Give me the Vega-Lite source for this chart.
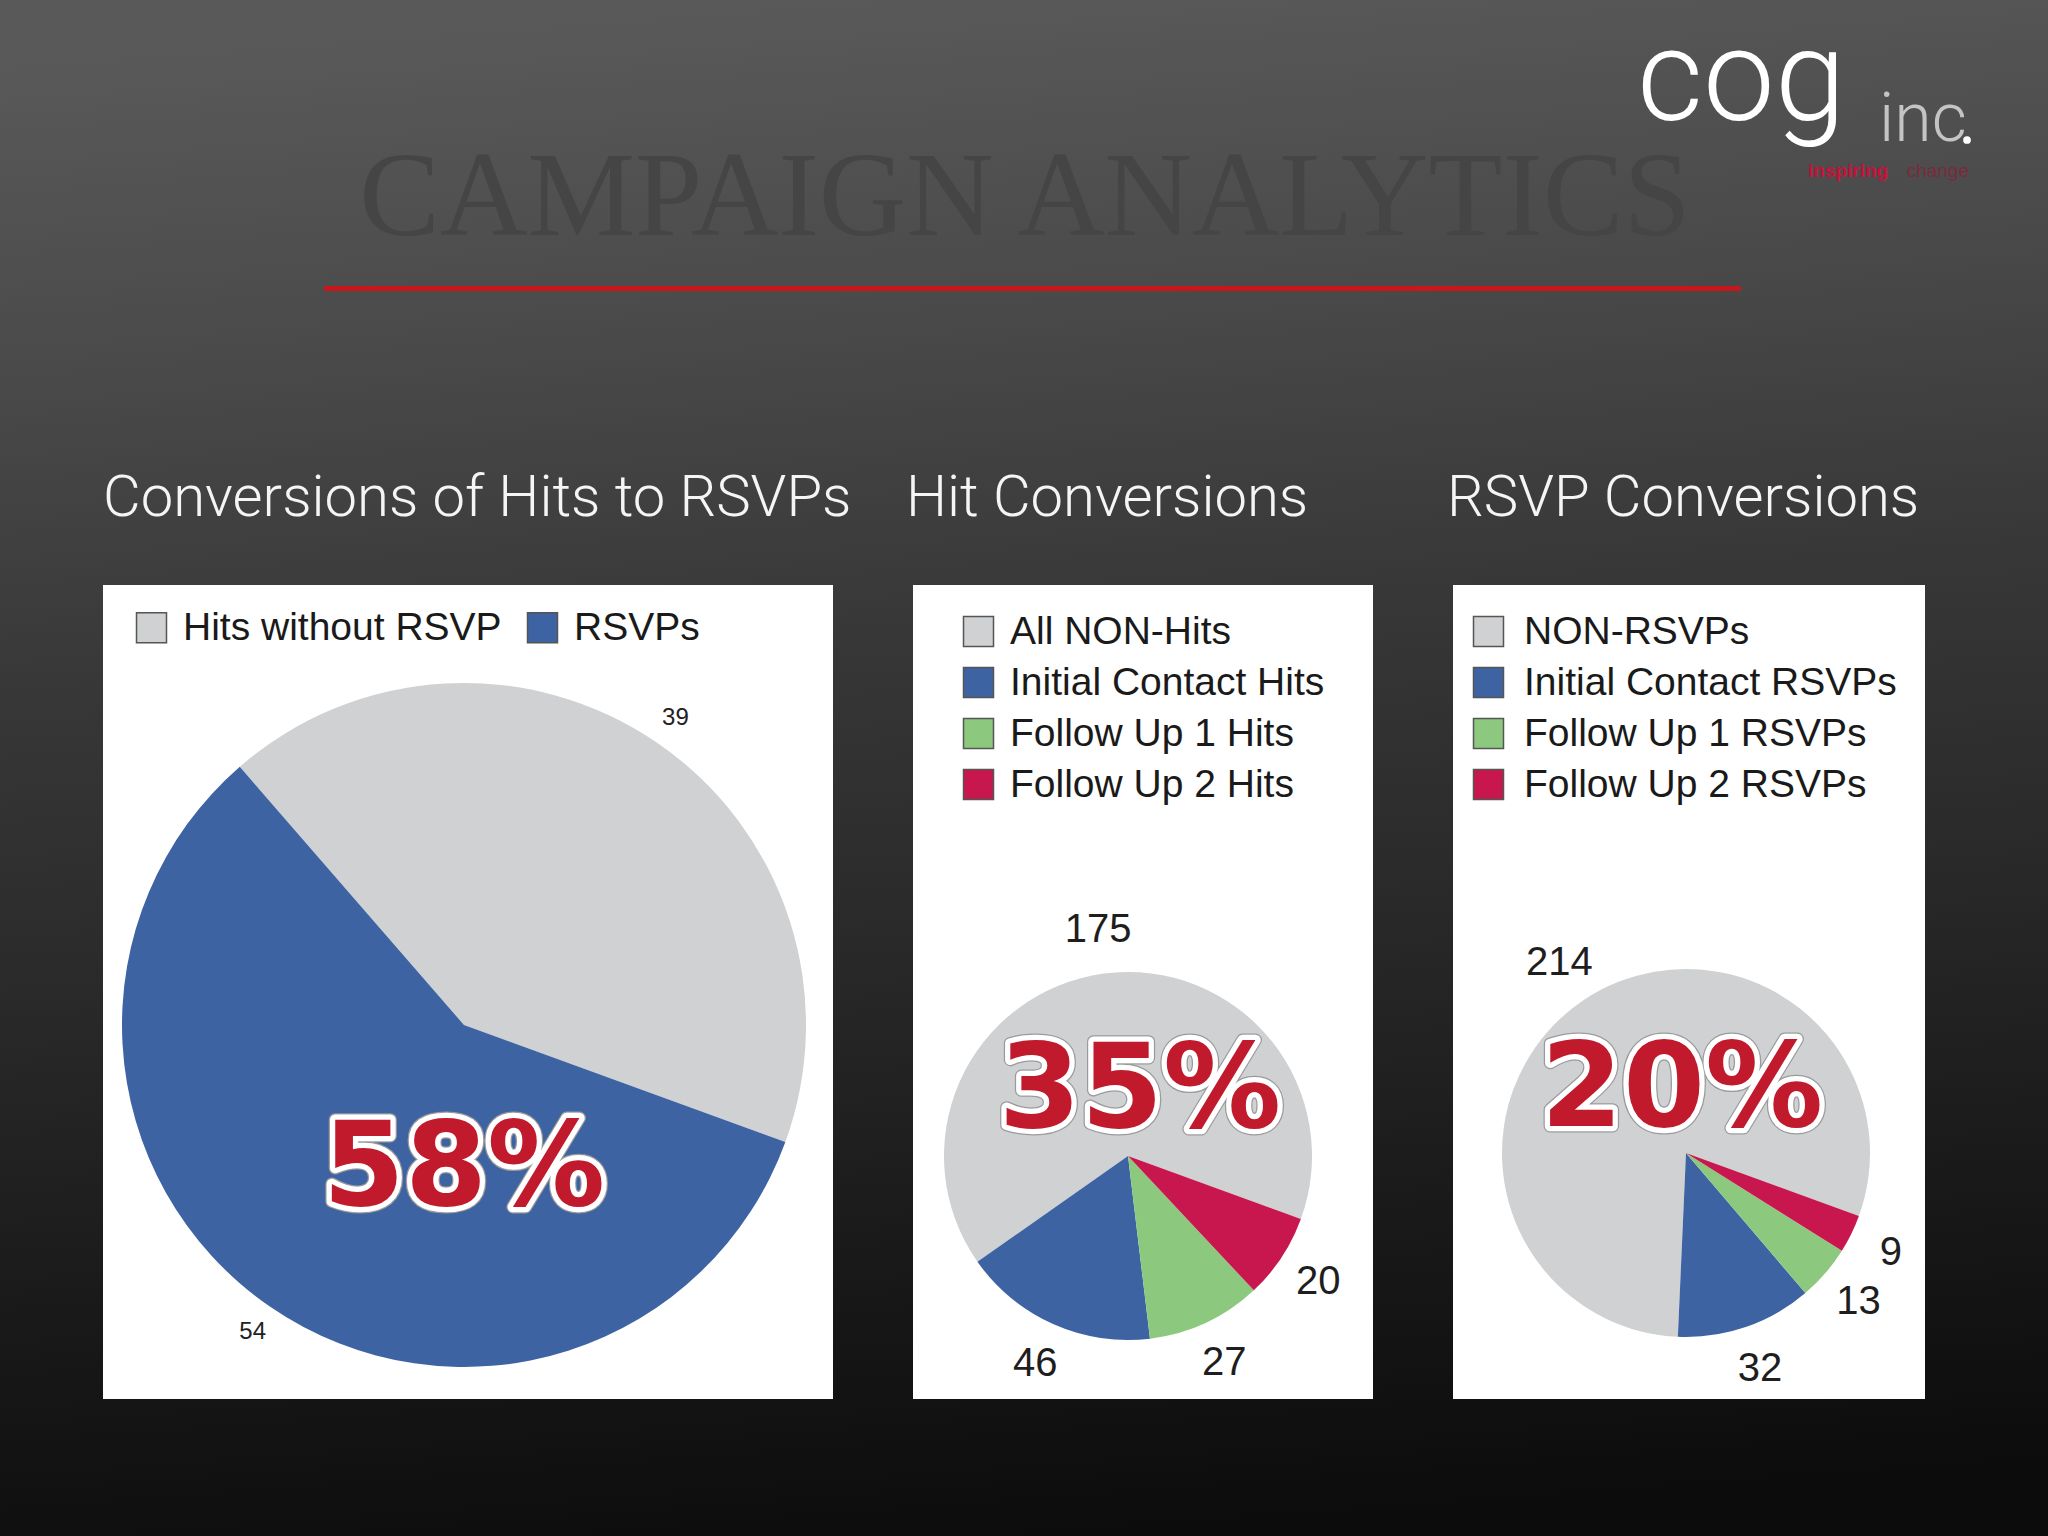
{
  "$schema": "https://vega.github.io/schema/vega-lite/v6.json",
  "background": "#1c1c1c",
  "padding": 0,
  "autosize": {"type": "pad"},
  "config": {"view": {"stroke": null}, "font": "Liberation Sans"},
  "bounds": "flush",
  "spacing": 285,
  "vconcat": [
    {
      "width": 1872,
      "height": 300,
      "data": {"values": [{}]},
      "layer": [
        {
          "mark": {
            "type": "rect", "x": -103, "x2": 1945, "y": 0, "y2": 1536,
            "fill": {
              "gradient": "linear", "x1": 0.4, "y1": 0, "x2": 0.5, "y2": 1,
              "stops": [
                {"offset": 0, "color": "#595959"},
                {"offset": 0.2, "color": "#4a4a4a"},
                {"offset": 0.4, "color": "#383838"},
                {"offset": 0.6, "color": "#2a2a2a"},
                {"offset": 0.8, "color": "#1a1a1a"},
                {"offset": 1, "color": "#0c0c0c"}
              ]
            }
          }
        },
        {
          "mark": {"type": "text", "text": "CAMPAIGN ANALYTICS", "x": 922, "y": 235, "align": "center", "baseline": "alphabetic", "font": "Liberation Serif", "fontSize": 121, "fill": "#454545"}
        },
        {
          "mark": {"type": "rect", "x": 221, "x2": 1638, "y": 286, "y2": 291, "fill": "#c8161d"}
        },
        {
          "mark": {"type": "text", "text": "cog", "x": 1534, "y": 120, "align": "left", "baseline": "alphabetic", "font": "Roboto", "fontWeight": 300, "fontSize": 128, "fill": "#ffffff"}
        },
        {
          "mark": {"type": "text", "text": "inc", "x": 1776, "y": 141, "align": "left", "baseline": "alphabetic", "font": "Roboto", "fontWeight": 300, "fontSize": 68, "fill": "#c4c4c4"}
        },
        {
          "mark": {"type": "point", "shape": "circle", "filled": true, "fill": "#ffffff", "size": 60, "x": 1864, "y": 140, "opacity": 1}
        },
        {
          "mark": {"type": "text", "text": "inspiring", "x": 1705, "y": 177, "align": "left", "baseline": "alphabetic", "fontSize": 19, "fontWeight": "bold", "fill": "#c8103a"}
        },
        {
          "mark": {"type": "text", "text": "change", "x": 1866, "y": 177, "align": "right", "baseline": "alphabetic", "fontSize": 19, "fill": "#7a2a3e"}
        }
      ]
    },
    {
      "hconcat": [
        {
          "width": 730,
          "height": 814,
          "view": {"fill": "#ffffff", "stroke": null},
          "title": {"text": "Conversions of Hits to RSVPs", "anchor": "start", "font": "Roboto", "fontWeight": 300, "fontSize": 58, "color": "#f5f5f5", "offset": 11, "baseline": "alphabetic"},
          "data": {"values": [
            {"segment": "Hits without RSVP", "count": 39, "rank": 1},
            {"segment": "RSVPs", "count": 54, "rank": 2}
          ]},
          "layer": [
            {
              "mark": {"type": "arc", "outerRadius": 342, "x": 361, "y": 440},
              "encoding": {
                "theta": {"field": "count", "type": "quantitative", "stack": true, "scale": {"range": [8.2031, 1.9199]}},
                "order": {"field": "rank", "type": "quantitative"},
                "color": {
                  "field": "segment", "type": "nominal",
                  "scale": {"domain": ["Hits without RSVP", "RSVPs"], "range": ["#cfd1d2", "#3e63a3"]},
                  "legend": {"orient": "none", "legendX": 29, "legendY": 23, "direction": "horizontal", "title": null, "symbolType": "square", "symbolSize": 900, "symbolStrokeColor": "#555555", "symbolStrokeWidth": 1.5, "labelFontSize": 39, "labelFont": "Liberation Sans", "labelColor": "#1a1a1a", "labelOffset": 12, "columnPadding": 21, "padding": 0, "labelLimit": 0}
                }
              }
            },
            {
              "mark": {"type": "text", "radius": 373, "x": 361, "y": 440, "fontSize": 24, "align": "center", "baseline": "middle"},
              "encoding": {
                "theta": {"field": "count", "type": "quantitative", "stack": true},
                "order": {"field": "rank", "type": "quantitative"},
                "detail": {"field": "segment", "type": "nominal"},
                "text": {"field": "count", "type": "quantitative"},
                "color": {"value": "#222222"}
              }
            },
            {
              "data": {"values": [{"share": "58%"}]},
              "mark": {"type": "text", "x": 361, "y": 620, "align": "center", "baseline": "alphabetic", "font": "DejaVu Sans", "fontWeight": "bold", "fontSize": 118, "fill": "#c01a2c", "stroke": "#9a9a9a", "strokeWidth": 13, "strokeJoin": "round"},
              "encoding": {"text": {"field": "share", "type": "nominal"}}
            },
            {
              "data": {"values": [{"share": "58%"}]},
              "mark": {"type": "text", "x": 361, "y": 620, "align": "center", "baseline": "alphabetic", "font": "DejaVu Sans", "fontWeight": "bold", "fontSize": 118, "fill": "#c01a2c", "stroke": "#ffffff", "strokeWidth": 10.5, "strokeJoin": "round"},
              "encoding": {"text": {"field": "share", "type": "nominal"}}
            },
            {
              "data": {"values": [{"share": "58%"}]},
              "mark": {"type": "text", "x": 361, "y": 620, "align": "center", "baseline": "alphabetic", "font": "DejaVu Sans", "fontWeight": "bold", "fontSize": 118, "fill": "#c01a2c"},
              "encoding": {"text": {"field": "share", "type": "nominal"}}
            }
          ]
        },
        {
          "width": 460,
          "height": 814,
          "view": {"fill": "#ffffff", "stroke": null},
          "title": {"text": "Hit Conversions", "anchor": "start", "dx": -7, "font": "Roboto", "fontWeight": 300, "fontSize": 58, "color": "#f5f5f5", "offset": 11, "baseline": "alphabetic"},
          "data": {"values": [
            {"segment": "All NON-Hits", "count": 175, "rank": 1},
            {"segment": "Initial Contact Hits", "count": 46, "rank": 2},
            {"segment": "Follow Up 1 Hits", "count": 27, "rank": 3},
            {"segment": "Follow Up 2 Hits", "count": 20, "rank": 4}
          ]},
          "layer": [
            {
              "mark": {"type": "arc", "outerRadius": 184, "x": 215, "y": 571},
              "encoding": {
                "theta": {"field": "count", "type": "quantitative", "stack": true, "scale": {"range": [8.2031, 1.9199]}},
                "order": {"field": "rank", "type": "quantitative"},
                "color": {
                  "field": "segment", "type": "nominal",
                  "scale": {"domain": ["All NON-Hits", "Initial Contact Hits", "Follow Up 1 Hits", "Follow Up 2 Hits"], "range": ["#cfd1d2", "#3e63a3", "#8cc97f", "#c8174e"]},
                  "legend": {"orient": "none", "legendX": 46, "legendY": 27, "direction": "vertical", "title": null, "symbolType": "square", "symbolSize": 900, "symbolStrokeColor": "#555555", "symbolStrokeWidth": 1.5, "labelFontSize": 39, "labelFont": "Liberation Sans", "labelColor": "#1a1a1a", "labelOffset": 12, "rowPadding": 11, "padding": 0, "labelLimit": 0}
                }
              }
            },
            {
              "mark": {"type": "text", "radius": 228, "x": 215, "y": 571, "fontSize": 40, "align": "center", "baseline": "middle"},
              "encoding": {
                "theta": {"field": "count", "type": "quantitative", "stack": true},
                "order": {"field": "rank", "type": "quantitative"},
                "detail": {"field": "segment", "type": "nominal"},
                "text": {"field": "count", "type": "quantitative"},
                "color": {"value": "#1e1e1e"}
              }
            },
            {
              "data": {"values": [{"share": "35%"}]},
              "mark": {"type": "text", "x": 227, "y": 542, "align": "center", "baseline": "alphabetic", "font": "DejaVu Sans", "fontWeight": "bold", "fontSize": 118, "fill": "#c01a2c", "stroke": "#9a9a9a", "strokeWidth": 13, "strokeJoin": "round"},
              "encoding": {"text": {"field": "share", "type": "nominal"}}
            },
            {
              "data": {"values": [{"share": "35%"}]},
              "mark": {"type": "text", "x": 227, "y": 542, "align": "center", "baseline": "alphabetic", "font": "DejaVu Sans", "fontWeight": "bold", "fontSize": 118, "fill": "#c01a2c", "stroke": "#ffffff", "strokeWidth": 10.5, "strokeJoin": "round"},
              "encoding": {"text": {"field": "share", "type": "nominal"}}
            },
            {
              "data": {"values": [{"share": "35%"}]},
              "mark": {"type": "text", "x": 227, "y": 542, "align": "center", "baseline": "alphabetic", "font": "DejaVu Sans", "fontWeight": "bold", "fontSize": 118, "fill": "#c01a2c"},
              "encoding": {"text": {"field": "share", "type": "nominal"}}
            }
          ]
        },
        {
          "width": 472,
          "height": 814,
          "view": {"fill": "#ffffff", "stroke": null},
          "title": {"text": "RSVP Conversions", "anchor": "start", "dx": -6, "font": "Roboto", "fontWeight": 300, "fontSize": 58, "color": "#f5f5f5", "offset": 11, "baseline": "alphabetic"},
          "data": {"values": [
            {"segment": "NON-RSVPs", "count": 214, "rank": 1},
            {"segment": "Initial Contact RSVPs", "count": 32, "rank": 2},
            {"segment": "Follow Up 1 RSVPs", "count": 13, "rank": 3},
            {"segment": "Follow Up 2 RSVPs", "count": 9, "rank": 4}
          ]},
          "layer": [
            {
              "mark": {"type": "arc", "outerRadius": 184, "x": 233, "y": 568},
              "encoding": {
                "theta": {"field": "count", "type": "quantitative", "stack": true, "scale": {"range": [8.2031, 1.9199]}},
                "order": {"field": "rank", "type": "quantitative"},
                "color": {
                  "field": "segment", "type": "nominal",
                  "scale": {"domain": ["NON-RSVPs", "Initial Contact RSVPs", "Follow Up 1 RSVPs", "Follow Up 2 RSVPs"], "range": ["#cfd1d2", "#3e63a3", "#8cc97f", "#c8174e"]},
                  "legend": {"orient": "none", "legendX": 16, "legendY": 27, "direction": "vertical", "title": null, "symbolType": "square", "symbolSize": 900, "symbolStrokeColor": "#555555", "symbolStrokeWidth": 1.5, "labelFontSize": 39, "labelFont": "Liberation Sans", "labelColor": "#1a1a1a", "labelOffset": 16, "rowPadding": 11, "padding": 0, "labelLimit": 0}
                }
              }
            },
            {
              "mark": {"type": "text", "radius": 228, "x": 233, "y": 568, "fontSize": 40, "align": "center", "baseline": "middle"},
              "encoding": {
                "theta": {"field": "count", "type": "quantitative", "stack": true},
                "order": {"field": "rank", "type": "quantitative"},
                "detail": {"field": "segment", "type": "nominal"},
                "text": {"field": "count", "type": "quantitative"},
                "color": {"value": "#1e1e1e"}
              }
            },
            {
              "data": {"values": [{"share": "20%"}]},
              "mark": {"type": "text", "x": 229, "y": 541, "align": "center", "baseline": "alphabetic", "font": "DejaVu Sans", "fontWeight": "bold", "fontSize": 118, "fill": "#c01a2c", "stroke": "#9a9a9a", "strokeWidth": 13, "strokeJoin": "round"},
              "encoding": {"text": {"field": "share", "type": "nominal"}}
            },
            {
              "data": {"values": [{"share": "20%"}]},
              "mark": {"type": "text", "x": 229, "y": 541, "align": "center", "baseline": "alphabetic", "font": "DejaVu Sans", "fontWeight": "bold", "fontSize": 118, "fill": "#c01a2c", "stroke": "#ffffff", "strokeWidth": 10.5, "strokeJoin": "round"},
              "encoding": {"text": {"field": "share", "type": "nominal"}}
            },
            {
              "data": {"values": [{"share": "20%"}]},
              "mark": {"type": "text", "x": 229, "y": 541, "align": "center", "baseline": "alphabetic", "font": "DejaVu Sans", "fontWeight": "bold", "fontSize": 118, "fill": "#c01a2c"},
              "encoding": {"text": {"field": "share", "type": "nominal"}}
            }
          ]
        }
      ],
      "spacing": 80,
      "bounds": "flush",
      "resolve": {"scale": {"color": "independent", "theta": "independent"}}
    }
  ]
}
